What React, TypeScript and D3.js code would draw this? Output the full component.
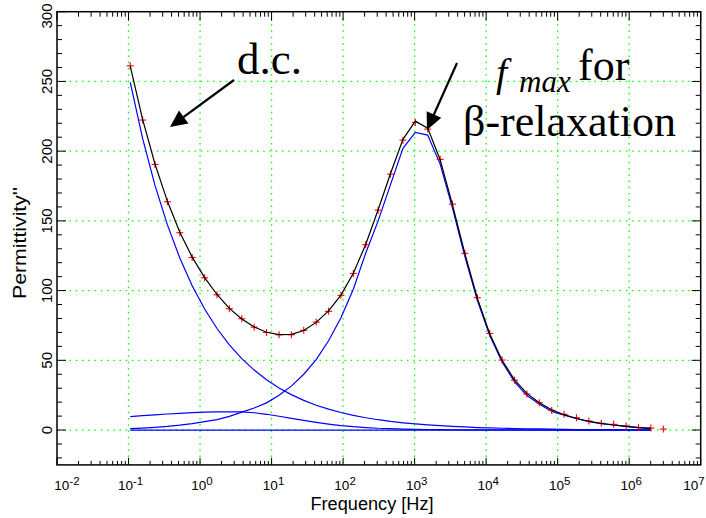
import React from "react";
import * as d3 from "d3";

// ---- data ----
const freqs = [0.1057, 0.1574, 0.2344, 0.3499, 0.5212, 0.7762, 1.159, 1.726, 2.57, 3.837, 5.715, 8.511, 12.71, 18.92, 28.18, 42.07, 62.66, 93.33, 139.0, 207.5, 309.0, 460.3, 687.1, 1023, 1524, 2275, 3388, 5047, 7534, 11220, 16710, 24950, 37150, 55340, 82600, 123000, 183200, 273500, 407400, 606700, 905700, 1349000, 2009000, 2999000];
const measured = [261.2, 222.3, 190.5, 163.7, 141.5, 123.8, 109.2, 97.0, 87.0, 79.8, 73.8, 70.0, 68.3, 68.3, 71.5, 77.4, 85.1, 96.6, 112.3, 132.9, 157.7, 183.5, 207.9, 220.6, 215.8, 194.1, 162.0, 126.7, 94.9, 69.3, 50.2, 35.8, 25.8, 19.6, 14.1, 11.3, 8.8, 6.5, 4.8, 4.1, 2.9, 1.9, 1.4, 0.7];
const fitTotal = [261.0, 222.8, 190.8, 164.0, 141.8, 124.0, 109.3, 97.2, 87.2, 79.7, 73.9, 70.1, 68.4, 68.6, 71.4, 77.2, 85.4, 96.8, 112.4, 133.2, 158.0, 184.0, 208.5, 221.5, 216.5, 193.8, 161.5, 126.5, 94.5, 69.0, 50.0, 36.0, 26.3, 19.5, 14.5, 11.0, 8.3, 6.3, 4.8, 3.6, 2.6, 1.8, 1.2];
const dcComponent = [249.3, 209.1, 175.4, 147.1, 123.4, 103.5, 86.8, 72.8, 61.1, 51.2, 43.0, 36.0, 30.2, 25.4, 21.3, 17.8, 15.0, 12.6, 10.5, 8.8, 7.4, 6.2, 5.2, 4.4, 3.7, 3.1, 2.6, 2.2, 1.8, 1.5, 1.3, 1.1, 0.9, 0.8, 0.6, 0.5, 0.4, 0.4, 0.3, 0.3, 0.2, 0.2, 0.1];
const alphaComponent = [9.6, 10.3, 10.9, 11.5, 12.0, 12.5, 12.8, 13.0, 13.1, 13.0, 12.4, 11.3, 9.9, 8.4, 6.9, 5.5, 4.3, 3.2, 2.4, 1.8, 1.3, 1.0, 0.7, 0.5, 0.4, 0.3, 0.2, 0.15, 0.1, 0.1, 0.1, 0.05, 0.05, 0.05, 0, 0, 0, 0, 0, 0, 0, 0, 0];
const betaComponent = [1.0, 1.4, 1.9, 2.6, 3.5, 4.6, 6.0, 7.5, 9.8, 12.8, 15.8, 19.5, 25.0, 31.5, 40.0, 50.5, 64.0, 80.5, 101.0, 127.0, 150.0, 176.0, 202.0, 213.5, 211.5, 190.7, 159.2, 124.3, 93.0, 67.7, 48.8, 34.6, 24.8, 18.7, 13.4, 10.7, 8.3, 6.0, 4.5, 3.7, 2.6, 1.7, 1.2];
const offsetComponent = [0, 0, 0, 0, 0, 0, 0, 0, 0, 0, 0, 0, 0, 0, 0, 0, 0, 0, 0, 0, 0, 0, 0, 0, 0, 0, 0, 0, 0, 0, 0, 0, 0, 0, 0, 0, 0, 0, 0, 0, 0, 0, 0];

const xExponents = [-2, -1, 0, 1, 2, 3, 4, 5, 6, 7];
const minorMultipliers = [2, 3, 4, 5, 6, 7, 8, 9];
const yTickValues = [0, 50, 100, 150, 200, 250, 300];
const yMinorStep = 10;
const xTitle = "Frequency [Hz]";
const yTitle = "Permittivity''";

const W = 706;
const H = 518;
const L = 57, R = 700.7, T = 11.7, B = 464.9;

const SANS = "'Liberation Sans', Arial, sans-serif";
const SERIF = "'Liberation Serif', 'Times New Roman', serif";

function Arrow({ x1, y1, x2, y2 }: { x1: number; y1: number; x2: number; y2: number }) {
  const dx = x2 - x1, dy = y2 - y1;
  const len = Math.hypot(dx, dy);
  const ux = dx / len, uy = dy / len;
  const hl = 17, hw = 8;
  const bx = x2 - ux * hl, by = y2 - uy * hl;
  const px = -uy, py = ux;
  const pts = `${x2},${y2} ${bx + px * hw},${by + py * hw} ${bx - px * hw},${by - py * hw}`;
  return (
    <g>
      <line x1={x1} y1={y1} x2={bx + ux * 2} y2={by + uy * 2} stroke="#000" strokeWidth={2.2} />
      <polygon points={pts} fill="#000" />
    </g>
  );
}

export default function App() {
  const x = d3.scaleLog().domain([1e-2, 1e7]).range([L, R]);
  const y = d3.scaleLinear().domain([-25, 300]).range([B, T]);

  const mkLine = (vals: number[]) =>
    d3.line<number>().x((_, i) => x(freqs[i])).y((d) => y(d))(vals) || "";

  const decades = xExponents.map((e) => Math.pow(10, e));
  const minorX: number[] = [];
  decades.slice(0, -1).forEach((d) => minorMultipliers.forEach((m) => minorX.push(d * m)));
  const minorY = d3.range(-20, 300, yMinorStep).filter((v) => v % 50 !== 0);

  const gridStyle = { stroke: "#00ff00", strokeWidth: 1.3, strokeDasharray: "1.5 4.75" };

  return (
    <svg width={W} height={H} style={{ position: "absolute", left: 0, top: 0, background: "#fff" }} fontFamily={SANS}>
      <rect x={0} y={0} width={W} height={H} fill="#fff" />
      {/* grid */}
      {decades.filter((d) => d > 1e-2 && d < 1e7).map((d) => (
        <line key={"gx" + d} x1={x(d)} x2={x(d)} y1={T} y2={B} {...gridStyle} />
      ))}
      {yTickValues.filter((v) => v < 300).map((v) => (
        <line key={"gy" + v} x1={L} x2={R} y1={y(v)} y2={y(v)} {...gridStyle} />
      ))}

      {/* components */}
      {[dcComponent, alphaComponent, betaComponent, offsetComponent].map((c, i) => (
        <path key={"c" + i} d={mkLine(c)} fill="none" stroke="#0000ff" strokeWidth={1.2} />
      ))}

      {/* measured points */}
      {measured.map((v, i) => {
        const cx = x(freqs[i]), cy = y(v);
        return (
          <g key={"m" + i} stroke="#ff0000" strokeWidth={1.1}>
            <line x1={cx - 3.5} x2={cx + 3.5} y1={cy} y2={cy} />
            <line x1={cx} x2={cx} y1={cy - 3.5} y2={cy + 3.5} />
          </g>
        );
      })}

      {/* total fit */}
      <path d={mkLine(fitTotal)} fill="none" stroke="#000" strokeWidth={1.2} />

      {/* axes frame */}
      <rect x={L} y={T} width={R - L} height={B - T} fill="none" stroke="#000" strokeWidth={1.5} />

      {/* x ticks */}
      {decades.map((d) => (
        <g key={"xt" + d} stroke="#000" strokeWidth={1}>
          <line x1={x(d)} x2={x(d)} y1={B} y2={B - 7} />
          <line x1={x(d)} x2={x(d)} y1={T} y2={T + 9} />
        </g>
      ))}
      {minorX.map((d) => (
        <g key={"xm" + d} stroke="#000" strokeWidth={1}>
          <line x1={x(d)} x2={x(d)} y1={B} y2={B - 4} />
          <line x1={x(d)} x2={x(d)} y1={T} y2={T + 5} />
        </g>
      ))}
      {/* y ticks */}
      {yTickValues.map((v) => (
        <g key={"yt" + v} stroke="#000" strokeWidth={1}>
          <line x1={L} x2={L + 9} y1={y(v)} y2={y(v)} />
          <line x1={R} x2={R - 9} y1={y(v)} y2={y(v)} />
        </g>
      ))}
      {minorY.map((v) => (
        <g key={"ym" + v} stroke="#000" strokeWidth={1}>
          <line x1={L} x2={L + 5} y1={y(v)} y2={y(v)} />
          <line x1={R} x2={R - 5} y1={y(v)} y2={y(v)} />
        </g>
      ))}

      {/* x tick labels */}
      {xExponents.map((e, i) => {
        const last = i === xExponents.length - 1;
        const cx = i === 0 ? x(decades[i]) + 10 : last ? W - 12 : x(decades[i]) + 2;
        return (
          <text key={"xl" + e} x={cx} y={490} textAnchor="middle" fontSize={13.5} fill="#000">
            <tspan>10</tspan>
            <tspan dy={-5} fontSize={11.5}>{String(e)}</tspan>
          </text>
        );
      })}
      {/* y tick labels */}
      {yTickValues.map((v) => {
        const cy = v === 300 ? 16 : y(v);
        return (
          <text key={"yl" + v} transform={`translate(52,${cy}) rotate(-90)`} textAnchor="middle" fontSize={15} fill="#000">
            {String(v)}
          </text>
        );
      })}

      {/* titles */}
      <text x={372} y={510} textAnchor="middle" fontSize={17.5} textLength={123} lengthAdjust="spacingAndGlyphs" fill="#000">{xTitle}</text>
      <text transform="translate(26,243) rotate(-90)" textAnchor="middle" fontSize={18} textLength={112} lengthAdjust="spacingAndGlyphs" fill="#000">{yTitle}</text>

      {/* annotations */}
      <text x={237} y={74} fontFamily={SERIF} fontSize={45} fill="#000">d.c.</text>
      <Arrow x1={234} y1={80} x2={170} y2={127} />
      <text x={496} y={86} fontFamily={SERIF} fontSize={40} fontStyle="italic" fill="#000">f</text>
      <text x={519} y={92} fontFamily={SERIF} fontSize={31} fontStyle="italic" fill="#000">max</text>
      <text x={578} y={80} fontFamily={SERIF} fontSize={44} fill="#000">for</text>
      <text x={463} y={136} fontFamily={SERIF} fontSize={44} fill="#000">β-relaxation</text>
      <Arrow x1={457} y1={63} x2={427} y2={130} />
    </svg>
  );
}
